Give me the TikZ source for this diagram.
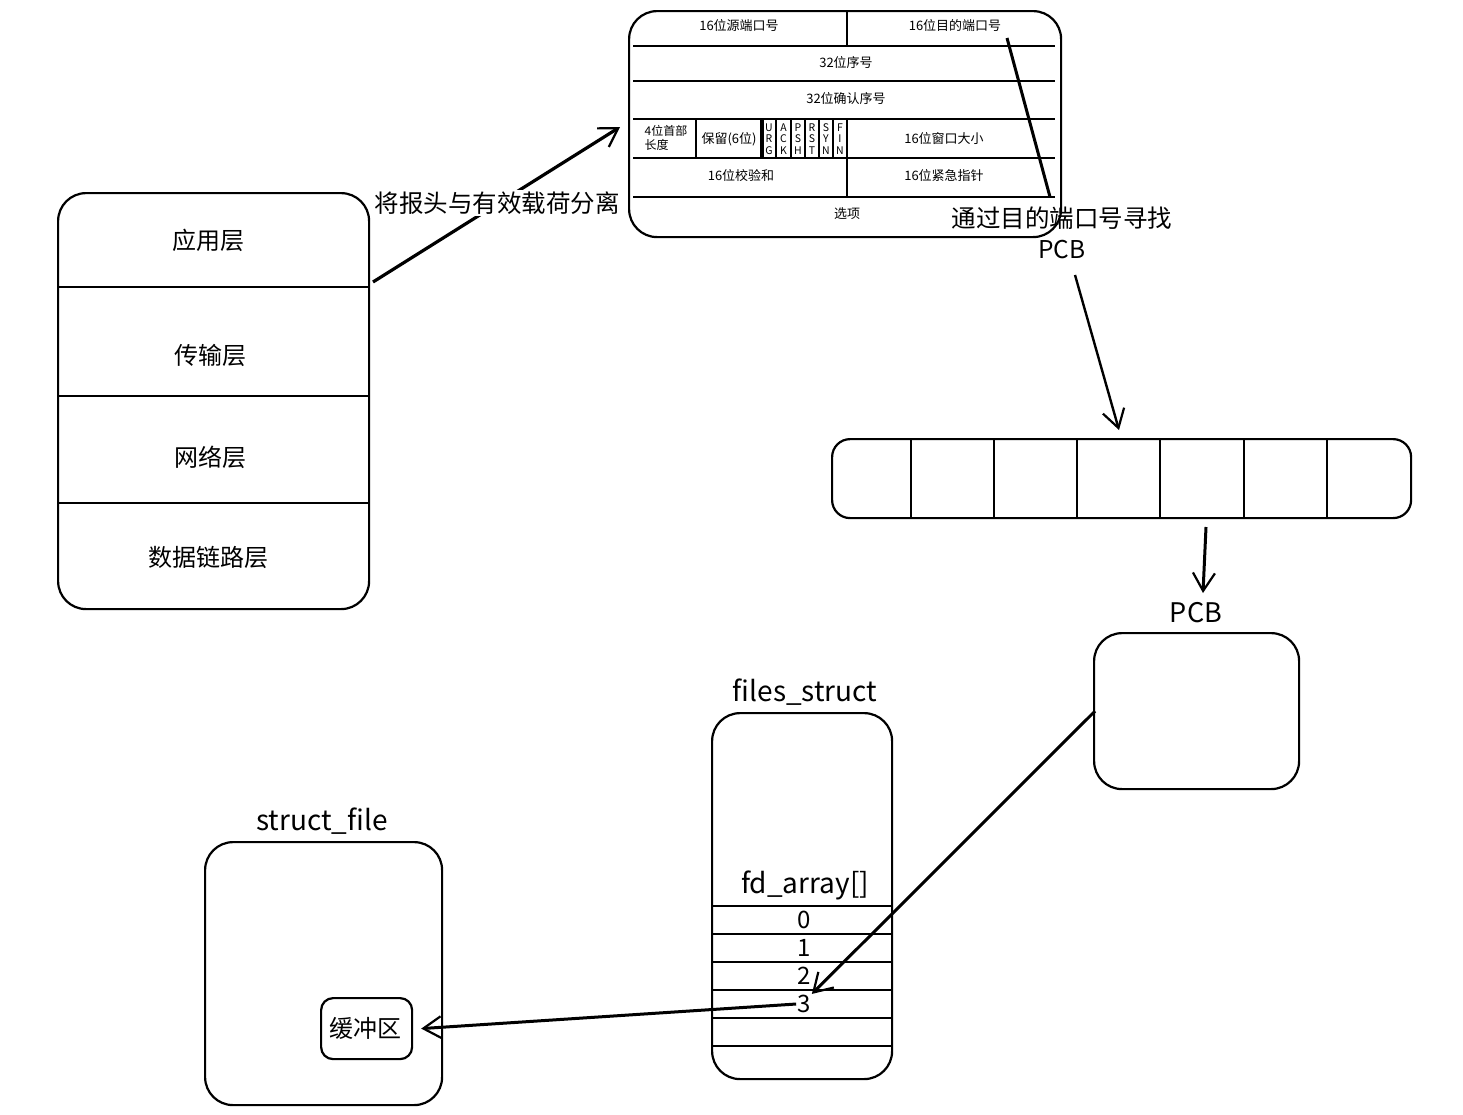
\documentclass[tikz,border=0pt]{standalone}
\usepackage{fontspec}
\setmainfont{Noto Sans CJK SC}
\usetikzlibrary{arrows.meta}
\begin{document}
\begin{tikzpicture}[x=1pt,y=-1pt,
  box/.style={draw, line width=2.2pt, rounded corners=28pt, inner sep=0pt, anchor=north west},
  sbox/.style={draw, line width=2.2pt, rounded corners=12pt, inner sep=0pt, anchor=north west},
  sep/.style={line width=2.8pt},
  thin sep/.style={line width=1.6pt},
  arr/.style={line width=2.4pt, -{Straight Barb[length=18pt,width=22pt,line width=2.2pt]}},
  big/.style={font=\fontsize{24}{28}\selectfont, inner sep=1pt},
  latin/.style={font=\fontsize{28}{32}\selectfont, inner sep=1pt},
  lbl/.style={inner sep=2pt, align=center},
  hdr/.style={font=\fontsize{13}{14.5}\selectfont, inner sep=0pt, align=left},
  flag/.style={font=\fontsize{10.5}{11.5}\selectfont, inner sep=0pt, align=center}
]
\useasboundingbox (0,0) rectangle (1463,1114);

% ---------- layer stack ----------
\node[box, minimum width=311pt, minimum height=416pt] (stack) at (57,192) {};
\draw[sep] (57,287) -- (368,287);
\draw[sep] (57,396) -- (368,396);
\draw[sep] (57,503) -- (368,503);
\node[big] (l1) at (208,240) {应用层};
\node[big] (l2) at (210,355) {传输层};
\node[big] (l3) at (210,457) {网络层};
\node[big] (l4) at (208,557) {数据链路层};

% ---------- TCP header ----------
\node[box, minimum width=432pt, minimum height=226pt] (tcp) at (628,10) {};
\foreach \yy in {46,81,119,158,197}{\draw[sep] (633,\yy) -- (1055,\yy);}
\draw[sep] (847,10) -- (847,46);
\draw[sep] (847,158) -- (847,197);
\draw[sep] (696,119) -- (696,158);
\draw[line width=3.4pt] (762,119) -- (762,158);
\foreach \xx in {776,791,805,819,833,847}{\draw[thin sep] (\xx,119) -- (\xx,158);}
\draw[line width=3pt] (1007,38) -- (1050,197);
\node[hdr] (h1) at (739,26) {16位源端口号};
\node[hdr] (h2) at (955,26) {16位目的端口号};
\node[hdr] (h3) at (846,63) {32位序号};
\node[hdr] (h4) at (846,99) {32位确认序号};
\node[hdr, align=left, font=\fontsize{12}{14}\selectfont] (h5) at (666,138) {4位首部\\长度};
\node[hdr] (h6) at (729,139) {保留(6位)};
\node[flag] (fU) at (769,139) {U\\R\\G};
\node[flag] (fA) at (783.5,139) {A\\C\\K};
\node[flag] (fP) at (798,139) {P\\S\\H};
\node[flag] (fR) at (812,139) {R\\S\\T};
\node[flag] (fS) at (826,139) {S\\Y\\N};
\node[flag] (fF) at (840,139) {F\\I\\N};
\node[hdr] (h7) at (944,139) {16位窗口大小};
\node[hdr] (h8) at (741,176) {16位校验和};
\node[hdr] (h9) at (944,176) {16位紧急指针};
\node[hdr] (h10) at (847,214) {选项};

% arrow: layers -> header
\coordinate (a1s) at (373,282);
\coordinate (a1e) at (620,127);
\draw[arr, line width=3.2pt] (a1s) -- (a1e);
\node[lbl, fill=white, font=\fontsize{24.5}{28}\selectfont] (sep1) at (497,203) {将报头与有效载荷分离};

% label: find PCB
\node[lbl, font=\fontsize{24.5}{31}\selectfont] (find) at (1062,233) {通过目的端口号寻找\\PCB};

% ---------- hash array ----------
\node[sbox, rounded corners=18pt, minimum width=579pt, minimum height=79pt] (tab) at (831,438) {};
\foreach \xx in {911,994,1077,1160,1244,1327}{\draw[line width=2.6pt] (\xx,438) -- (\xx,517);}
\coordinate (a2s) at (1075,275);
\coordinate (a2e) at (1119,430);
\draw[arr] (a2s) -- (a2e);

% ---------- PCB ----------
\node[big, font=\fontsize{27}{30}\selectfont] (pcbl) at (1196,613) {PCB};
\node[box, minimum width=205pt, minimum height=156pt] (pcb) at (1093,632) {};
\coordinate (a3s) at (1206,527);
\coordinate (a3e) at (1203,593);
\draw[arr, line width=3pt] (a3s) -- (a3e);

% ---------- files_struct ----------
\node[latin] (fsl) at (805,692) {files\_struct};
\node[box, minimum width=180pt, minimum height=366pt] (fs) at (711,712) {};
\node[latin] (fda) at (805,885) {fd\_array[]};
\foreach \yy in {906,934,962,990,1018,1046}{\draw[sep] (711,\yy) -- (891,\yy);}
\node[big] (fd0) at (804,920) {0};
\node[big] (fd1) at (804,948) {1};
\node[big] (fd2) at (804,976) {2};
\node[big] (fd3) at (804,1004) {3};

\draw[arr, line width=3pt] (pcb.west) ++(2,0) -- (fd3.north east);

% ---------- struct_file ----------
\node[latin] (sfl) at (322,821) {struct\_file};
\node[box, minimum width=237pt, minimum height=263pt] (sf) at (204,841) {};
\node[sbox, minimum width=91pt, minimum height=61pt] (buf) at (320,997) {};
\node[big] (bufl) at (365,1028) {缓冲区};
\draw[arr, line width=3pt] (fd3.west) -- ([xshift=8pt]buf.east);
\end{tikzpicture}
\end{document}
